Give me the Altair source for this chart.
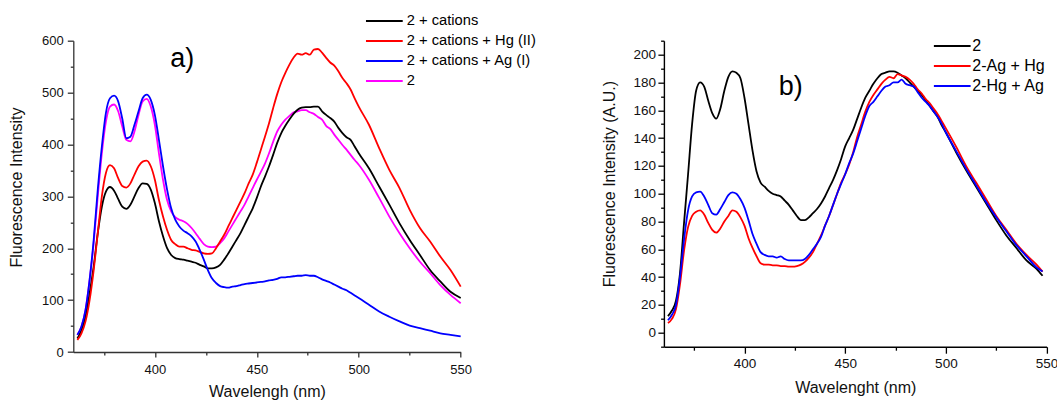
import altair as alt
import pandas as pd

# ---------------- panel a) ----------------
wl_a = [362, 364, 366, 368, 370, 372, 374, 376, 378, 380, 382, 384, 386, 388, 390, 392, 394, 396, 398, 400,
        402, 404, 406, 408, 410, 412, 414, 416, 418, 420, 422, 424, 426, 428, 430, 432, 434, 436, 438, 440,
        442, 444, 446, 448, 450, 452, 454, 456, 458, 460, 462, 464, 466, 468, 470, 472, 474, 476, 478, 480,
        482, 484, 486, 488, 490, 492, 494, 496, 498, 500, 505, 510, 515, 520, 525, 530, 535, 540, 545, 550]

a_cations = [26, 42, 68, 113, 165, 229, 280, 309, 318, 311, 295, 280, 276, 284, 300, 316, 325, 324, 313, 287,
             252, 223, 200, 187, 181, 179, 178, 176, 174, 172, 168, 165, 161, 161, 163, 168, 178, 190, 203, 216,
             229, 245, 261, 277, 297, 319, 338, 358, 380, 403, 422, 436, 448, 459, 467, 471, 472, 472, 473, 473,
             464, 457, 451, 444, 432, 422, 414, 409, 396, 383, 354, 319, 284, 248, 216, 187, 158, 136, 116, 104]

a_hg = [23, 36, 59, 100, 158, 229, 300, 345, 360, 354, 335, 320, 317, 325, 342, 358, 367, 369, 358, 332,
        293, 261, 235, 216, 208, 203, 203, 200, 197, 196, 193, 190, 189, 190, 200, 213, 226, 242, 258, 274,
        290, 306, 325, 342, 365, 390, 415, 441, 470, 497, 520, 538, 554, 567, 575, 573, 576, 573, 583, 584,
        577, 567, 558, 552, 541, 528, 518, 506, 489, 473, 438, 393, 351, 316, 274, 239, 213, 184, 158, 126]

a_ag = [33, 49, 81, 139, 216, 313, 396, 461, 489, 494, 483, 450, 412, 415, 438, 464, 489, 496, 486, 457,
        409, 358, 313, 277, 255, 242, 234, 229, 223, 213, 197, 178, 158, 142, 133, 127, 125, 124, 126, 127,
        129, 131, 132, 133, 134, 135, 136, 138, 139, 141, 144, 144, 145, 146, 147, 147, 148, 147, 147, 144,
        140, 137, 134, 130, 126, 122, 119, 114, 109, 104, 91, 78, 68, 59, 51, 46, 41, 36, 33, 30]

a_free = [33, 49, 81, 139, 210, 300, 383, 444, 473, 477, 464, 435, 409, 406, 425, 457, 483, 488, 473, 438,
          383, 332, 293, 271, 260, 255, 252, 247, 239, 229, 218, 208, 203, 202, 203, 210, 219, 232, 245, 258,
          271, 284, 300, 316, 332, 347, 363, 383, 405, 425, 438, 448, 455, 462, 464, 466, 466, 462, 459, 453,
          448, 436, 430, 419, 409, 399, 390, 380, 370, 361, 332, 297, 261, 229, 200, 174, 152, 129, 110, 94]

names_a = ["2 + cations", "2 + cations + Hg (II)", "2 + cations + Ag (I)", "2"]
colors_a = ["#000000", "#ff0000", "#0000ff", "#ff00ff"]

# ---------------- panel b) ----------------
wl_b = [362, 364, 366, 368, 370, 372, 374, 376, 378, 380, 382, 384, 386, 388, 390, 392, 394, 396, 398, 400,
        402, 404, 406, 408, 410, 412, 414, 416, 418, 420, 422, 424, 426, 428, 430, 432, 434, 436, 438, 440,
        442, 444, 446, 448, 450, 452, 454, 456, 458, 460, 462, 464, 466, 468, 470, 472, 474, 476, 478, 480,
        482, 484, 486, 488, 490, 492, 494, 496, 498, 500, 505, 510, 515, 520, 525, 530, 535, 540, 545, 548]

b_free = [12, 16, 23, 43, 79, 114, 150, 174, 180, 177, 167, 158, 154, 161, 174, 184, 188, 187, 183, 169,
          150, 131, 116, 108, 105, 102, 100, 99, 98, 95, 92, 88, 84, 81, 81, 83, 86, 89, 93, 98,
          104, 110, 117, 125, 134, 140, 146, 154, 162, 169, 174, 179, 183, 186, 187, 188, 188, 187, 185, 183,
          180, 177, 174, 171, 167, 163, 159, 155, 149, 144, 130, 117, 105, 93, 81, 70, 61, 52, 46, 41]

b_ag_hg = [7, 10, 17, 35, 59, 76, 84, 87, 88, 85, 79, 74, 72, 75, 80, 84, 88, 87, 83, 77,
           68, 61, 55, 50, 49, 49, 48.5, 48.5, 48, 48, 47.5, 47.5, 48, 49, 51, 54, 58, 64, 70, 77,
           84, 92, 100, 108, 114, 121, 130, 141, 150, 159, 166, 171, 175, 179, 182, 184, 183, 186, 185, 184,
           182, 179, 175, 172, 168, 165, 161, 157, 152, 147, 134, 120, 108, 96, 84, 74, 64, 56, 49, 44]

b_hg_ag = [9, 13, 20, 40, 67, 88, 98, 101, 101.5, 98, 92, 86, 85, 89, 94, 99, 101, 100, 96, 90,
           81, 71, 64, 58, 56, 55, 55, 54, 55, 53, 52, 52, 52, 52, 53, 56, 60, 64, 69, 77,
           84, 92, 100, 107, 114, 122, 129, 138, 147, 156, 163, 166, 170, 174, 177, 178, 180, 180, 182, 179,
           178, 177, 173, 169, 166, 163, 159, 155, 150, 144, 131, 118, 106, 94, 83, 73, 63, 55, 47, 44]

names_b = ["2", "2-Ag + Hg", "2-Hg + Ag"]
colors_b = ["#000000", "#ff0000", "#0000ff"]

# annotation labels (data coordinates)
label_a = {"wl": [407.5], "val": [550], "t": ["a)"]}
label_b = {"wl": [417], "val": [171], "t": ["b)"]}

FONT = "Liberation Sans"


def long_df(wl, series, names):
    rows = []
    for name, vals in zip(names, series):
        for w, v in zip(wl, vals):
            rows.append({"wl": w, "val": v, "series": name})
    return pd.DataFrame(rows)


df_a = long_df(wl_a, [a_free, a_cations, a_hg, a_ag], ["2", names_a[0], names_a[1], names_a[2]])
df_b = long_df(wl_b, [b_free, b_ag_hg, b_hg_ag], names_b)


def cond(test, major, minor):
    return {"condition": {"test": test, "value": major}, "value": minor}


# ---------- chart a ----------
W_A, H_A = 387.4, 311.3
xa = alt.X("wl:Q", scale=alt.Scale(domain=[360, 550], nice=False, zero=False),
           axis=alt.Axis(title="Wavelengh (nm)", values=list(range(375, 551, 25)), tickCount=100,
                         labelExpr="datum.value % 50 === 0 ? datum.label : ''",
                         tickSize=cond("datum.value % 50 === 0", 5, 3),
                         labelPadding=6, labelFontSize=13, labelFont=FONT, labelColor="#111111",
                         labelFlush=False, labelOverlap=False,
                         domainColor="#333333", tickColor="#333333", domainWidth=1.3, tickWidth=1.3,
                         grid=False, titleFont=FONT, titleFontSize=16, titleFontWeight="normal",
                         titleColor="#111111", titleX=W_A / 2, titleY=44.5, titleBaseline="alphabetic",
                         titleAlign="center"))
ya = alt.Y("val:Q", scale=alt.Scale(domain=[0, 600], nice=False),
           axis=alt.Axis(title="Fluorescence Intensity", values=list(range(0, 601, 50)), tickCount=100,
                         labelExpr="datum.value % 100 === 0 ? datum.label : ''",
                         tickSize=cond("datum.value % 100 === 0", 6, 3),
                         labelPadding=4, labelFontSize=13, labelFont=FONT, labelColor="#111111",
                         labelFlush=False, labelOverlap=False,
                         domainColor="#333333", tickColor="#333333", domainWidth=1.3, tickWidth=1.3,
                         grid=False, titleFont=FONT, titleFontSize=16, titleFontWeight="normal",
                         titleColor="#111111", titleAngle=270, titleX=-51.8, titleY=146.3,
                         titleBaseline="alphabetic", titleAlign="center"))

lines_a = alt.Chart(df_a).mark_line(strokeWidth=1.8, interpolate="monotone").encode(
    x=xa, y=ya,
    color=alt.Color("series:N", scale=alt.Scale(domain=names_a, range=colors_a),
                    legend=alt.Legend(title=None, orient="none", legendX=292.7, legendY=-27.2,
                                      symbolType="M-3,0H3", symbolSize=150, symbolStrokeWidth=2,
                                      symbolOffset=10.85, labelOffset=15, labelFontSize=14.7,
                                      labelFont=FONT, labelColor="#000000", rowPadding=4, padding=0,
                                      labelLimit=400)))
text_a = alt.Chart(pd.DataFrame(label_a)).mark_text(
    align="left", baseline="alphabetic", fontSize=27, font=FONT, color="#000000").encode(
    x="wl:Q", y="val:Q", text="t:N")
chart_a = alt.layer(lines_a, text_a).properties(width=W_A, height=H_A)

# ---------- chart b ----------
W_B, H_B = 382.7, 306.0
xb = alt.X("wl:Q", scale=alt.Scale(domain=[360, 550], nice=False, zero=False),
           axis=alt.Axis(title="Wavelenght (nm)", values=list(range(375, 551, 25)), tickCount=100,
                         labelExpr="datum.value % 50 === 0 ? datum.label : ''",
                         tickSize=cond("datum.value % 50 === 0", 6.5, 3.5),
                         labelPadding=3, labelFontSize=13.5, labelFont=FONT, labelColor="#111111",
                         labelFlush=False, labelOverlap=False,
                         domainColor="#000000", tickColor="#000000", domainWidth=1.4, tickWidth=1.3,
                         grid=False, titleFont=FONT, titleFontSize=16, titleFontWeight="normal",
                         titleColor="#111111", titleX=W_B / 2, titleY=45.8, titleBaseline="alphabetic",
                         titleAlign="center"))
yb = alt.Y("val:Q", scale=alt.Scale(domain=[-10, 210], nice=False, zero=False),
           axis=alt.Axis(title="Fluorescence Intensity (A.U.)", values=list(range(-10, 211, 10)),
                         tickCount=100,
                         labelExpr="datum.value % 20 === 0 ? datum.label : ''",
                         tickSize=cond("datum.value % 20 === 0", 6, 3.3),
                         labelPadding=2.3, labelFontSize=13.5, labelFont=FONT, labelColor="#111111",
                         labelFlush=False, labelOverlap=False,
                         domainColor="#000000", tickColor="#000000", domainWidth=1.4, tickWidth=1.3,
                         grid=False, titleFont=FONT, titleFontSize=16, titleFontWeight="normal",
                         titleColor="#111111", titleAngle=270, titleX=-49.3, titleY=143,
                         titleBaseline="alphabetic", titleAlign="center"))

lines_b = alt.Chart(df_b).mark_line(strokeWidth=1.8, interpolate="monotone").encode(
    x=xb, y=yb,
    color=alt.Color("series:N", scale=alt.Scale(domain=names_b, range=colors_b),
                    legend=alt.Legend(title=None, orient="none", legendX=270, legendY=-2.7,
                                      symbolType="M-3,0H3", symbolSize=150, symbolStrokeWidth=2,
                                      symbolOffset=10.35, labelOffset=12, labelFontSize=16,
                                      labelFont=FONT, labelColor="#000000", rowPadding=4, padding=0,
                                      labelLimit=400)))
text_b = alt.Chart(pd.DataFrame(label_b)).mark_text(
    align="left", baseline="alphabetic", fontSize=27, font=FONT, color="#000000").encode(
    x="wl:Q", y="val:Q", text="t:N")
chart_b = alt.layer(lines_b, text_b).properties(width=W_B, height=H_B)

chart = alt.hconcat(chart_a, chart_b, spacing=202.6, bounds="flush").resolve_scale(
    color="independent").resolve_legend(color="independent").properties(
    autosize=alt.AutoSizeParams(type="none"),
    padding={"left": 73.3, "top": 40.7, "right": 1057 - 73.3, "bottom": 402 - 40.7},
    background="white",
).configure_view(stroke=None)

chart.save("out.html", embed_options={"renderer": "svg", "actions": False})
